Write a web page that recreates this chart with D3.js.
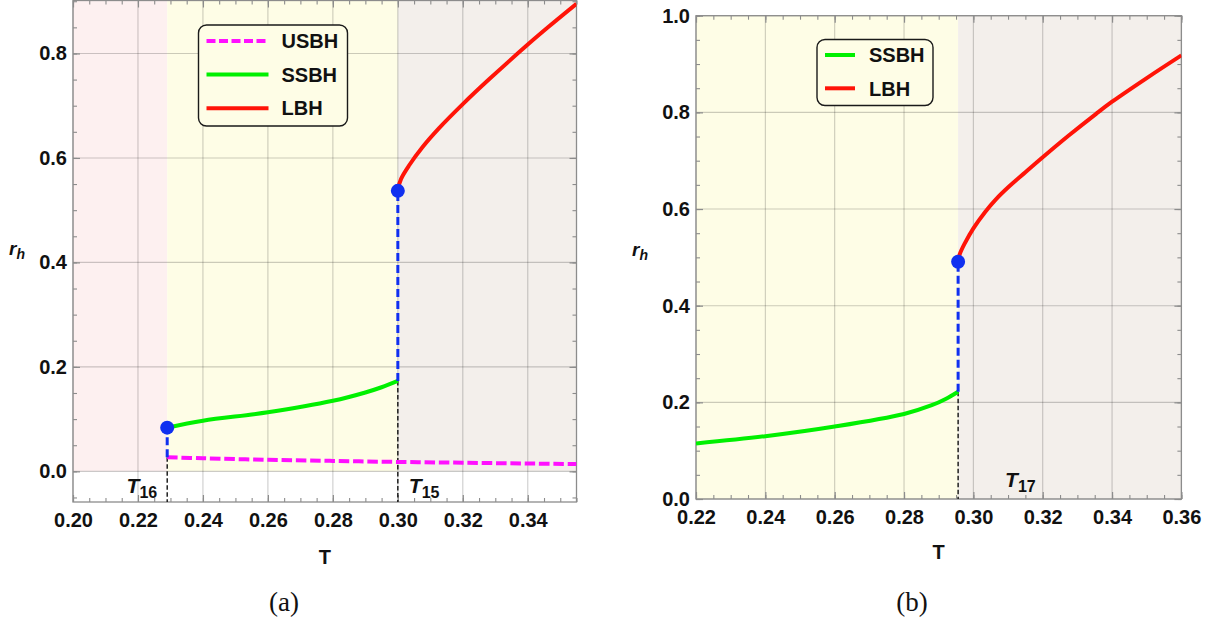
<!DOCTYPE html>
<html>
<head>
<meta charset="utf-8">
<script src="https://cdn.jsdelivr.net/npm/d3@7"></script>
<style>
  body { margin: 0; background: #fff; }
  svg { font-family: "Liberation Sans", Arial, sans-serif; }
</style>
</head>
<body>
<svg id="okvir" width="1216" height="624"></svg>
<script>
// ---- panel (a) ----
const aXTicks = [0.20, 0.22, 0.24, 0.26, 0.28, 0.30, 0.32, 0.34]
const aYTicks = [0.0, 0.2, 0.4, 0.6, 0.8]
const aGranice = [0.20, 0.229, 0.300, 0.355]   // T16, T15 split the plot
const aUSBH = [[0.229, 0.027], [0.24, 0.025], [0.26, 0.022], [0.28, 0.020], [0.30, 0.018],
               [0.32, 0.0165], [0.34, 0.015], [0.355, 0.014]]
const aSSBH = [[0.229, 0.0836], [0.24, 0.097], [0.26, 0.113], [0.28, 0.135], [0.29, 0.151],
               [0.295, 0.161], [0.300, 0.173]]
const aLBH = [[0.300, 0.540], [0.301, 0.560], [0.3035, 0.586], [0.3075, 0.620], [0.3127, 0.657],
              [0.320, 0.703], [0.328, 0.750], [0.340, 0.817], [0.3464, 0.851], [0.355, 0.895]]
const aTocke = [[0.229, 0.0836], [0.300, 0.537]]
const aSkokovi = [{T: 0.229, lo: 0.027, hi: 0.0836}, {T: 0.300, lo: 0.173, hi: 0.537}]
const aOznake = [{T: 0.229, ime: "16", strana: "lijevo"}, {T: 0.300, ime: "15", strana: "desno"}]

// ---- panel (b) ----
const bXTicks = [0.22, 0.24, 0.26, 0.28, 0.30, 0.32, 0.34, 0.36]
const bYTicks = [0.0, 0.2, 0.4, 0.6, 0.8, 1.0]
const bGranice = [0.22, 0.2956, 0.36]
const bSSBH = [[0.220, 0.115], [0.240, 0.130], [0.260, 0.150], [0.280, 0.176], [0.288, 0.194],
               [0.292, 0.207], [0.2956, 0.222]]
const bLBH = [[0.2956, 0.491], [0.2961, 0.507], [0.2976, 0.530], [0.300, 0.560], [0.3034, 0.594],
              [0.3065, 0.620], [0.3102, 0.646], [0.315, 0.676], [0.320, 0.707], [0.3275, 0.752],
              [0.3354, 0.797], [0.340, 0.822], [0.350, 0.871], [0.360, 0.918]]
const bTocke = [[0.2956, 0.491]]
const bSkokovi = [{T: 0.2956, lo: 0.222, hi: 0.491}]
const bOznake = [{T: 0.2956, ime: "17", strana: "daleko"}]

const boje = {USBH: "#ff10ff", SSBH: "#00f000", LBH: "#ff1408", plava: "#1030f0"}
const svg = d3.select("#okvir")

function crtajPanel(cfg) {
  const g = svg.append("g")
  const x = d3.scaleLinear().domain(cfg.xDom).range(cfg.xRange)
  const y = d3.scaleLinear().domain(cfg.yDom).range(cfg.yRange)
  const [x0, x1] = cfg.xRange
  const [y0, y1] = cfg.yRange   // y0 bottom, y1 top

  // shaded regions (from r = 0 up to the top of the frame)
  for (let i = 0; i < cfg.granice.length - 1; i++) {
    g.append("rect")
      .attr("x", x(cfg.granice[i]))
      .attr("y", y1)
      .attr("width", x(cfg.granice[i + 1]) - x(cfg.granice[i]))
      .attr("height", y(0) - y1)
      .attr("fill", cfg.bojePodrucja[i])
  }

  // grid
  g.append("g").selectAll("line").data(cfg.xTicks).join("line")
    .attr("x1", d => x(d)).attr("x2", d => x(d))
    .attr("y1", y0).attr("y2", y1)
    .attr("stroke", "#000").attr("stroke-opacity", 0.2).attr("stroke-width", 1.1)
  g.append("g").selectAll("line").data(cfg.yTicks).join("line")
    .attr("x1", x0).attr("x2", x1)
    .attr("y1", d => y(d)).attr("y2", d => y(d))
    .attr("stroke", "#000").attr("stroke-opacity", 0.2).attr("stroke-width", 1.1)

  // frame ticks, inward like Mathematica
  const xMinor = d3.range(cfg.xDom[0], cfg.xDom[1] + 1e-9, 0.005)
  const yMinor = d3.range(Math.ceil(cfg.yDom[0] / 0.05) * 0.05, cfg.yDom[1] + 1e-9, 0.05)
  const osi = [
    [d3.axisBottom(x), `translate(0,${y0})`, ".2f", cfg.xTicks, xMinor, 10.5],
    [d3.axisTop(x), `translate(0,${y1})`, null, cfg.xTicks, xMinor, 0],
    [d3.axisLeft(y), `translate(${x0},0)`, ".1f", cfg.yTicks, yMinor, 6],
    [d3.axisRight(y), `translate(${x1},0)`, null, cfg.yTicks, yMinor, 0],
  ]
  osi.forEach(([gen, tr, fmt, major, minor, pad]) => {
    const os = g.append("g").attr("transform", tr)
      .call(gen.tickValues(major).tickSize(-7).tickPadding(pad)
        .tickFormat(fmt ? d3.format(fmt) : ""))
    os.select(".domain").remove()
    os.selectAll("line").attr("stroke", "#8c8c8c").attr("stroke-width", 1.2)
    os.selectAll("text").attr("font-size", 20).attr("font-weight", "bold").attr("fill", "#111")
      .attr("font-family", "Liberation Sans, Arial, sans-serif")
    const osMin = g.append("g").attr("transform", tr)
      .call(gen.tickValues(minor).tickSize(-4).tickFormat(""))
    osMin.select(".domain").remove()
    osMin.selectAll("line").attr("stroke", "#8c8c8c").attr("stroke-width", 1.1)
  })

  g.append("rect")
    .attr("x", x0).attr("y", y1).attr("width", x1 - x0).attr("height", y0 - y1)
    .attr("fill", "none").attr("stroke", "#8c8c8c").attr("stroke-width", 1.3)

  const clipId = "clip" + cfg.id
  svg.append("clipPath").attr("id", clipId).append("rect")
    .attr("x", x0).attr("y", y1).attr("width", x1 - x0).attr("height", y0 - y1)
  const plot = g.append("g").attr("clip-path", `url(#${clipId})`)

  const linija = d3.line().x(d => x(d[0])).y(d => y(d[1])).curve(d3.curveCatmullRom.alpha(0.5))

  // black dashed drop lines to the bottom
  plot.selectAll(".crna").data(cfg.skokovi).join("line")
    .attr("x1", d => x(d.T)).attr("x2", d => x(d.T))
    .attr("y1", d => y(d.lo)).attr("y2", y0)
    .attr("stroke", "#111").attr("stroke-width", 1.4).attr("stroke-dasharray", "4.5,2.5")

  cfg.krivulje.forEach(k => {
    plot.append("path").datum(k.podaci)
      .attr("d", linija)
      .attr("fill", "none")
      .attr("stroke", boje[k.ime])
      .attr("stroke-width", 4)
      .attr("stroke-dasharray", k.crtkano ? "10.5,3.8" : null)
  })

  // blue dashed jumps
  plot.selectAll(".skok").data(cfg.skokovi).join("line")
    .attr("x1", d => x(d.T)).attr("x2", d => x(d.T))
    .attr("y1", d => y(d.lo)).attr("y2", d => y(d.hi))
    .attr("stroke", boje.plava).attr("stroke-width", 3).attr("stroke-dasharray", "8,4")

  plot.selectAll("circle").data(cfg.tocke).join("circle")
    .attr("cx", d => x(d[0])).attr("cy", d => y(d[1])).attr("r", 7)
    .attr("fill", boje.plava)

  // legend
  const L = cfg.legenda
  g.append("rect")
    .attr("x", L.x).attr("y", L.y).attr("width", L.w).attr("height", L.h)
    .attr("rx", 8).attr("fill", "#fefde6").attr("stroke", "#1a1a1a").attr("stroke-width", 1.4)
  cfg.krivulje.forEach((k, i) => {
    const yy = L.y + L.prvi + i * L.razmak
    g.append("line")
      .attr("x1", L.x + 8).attr("x2", L.x + 8 + L.duzina)
      .attr("y1", yy).attr("y2", yy)
      .attr("stroke", boje[k.ime]).attr("stroke-width", 4)
      .attr("stroke-dasharray", k.crtkano ? "9,3.5" : null)
    g.append("text")
      .attr("x", L.x + L.tekst).attr("y", yy + 7.2)
      .attr("font-size", 20).attr("font-weight", "bold").attr("fill", "#111")
      .text(k.ime)
  })

  // transition labels T_n
  cfg.oznake.forEach(o => {
    const t = g.append("text").attr("font-weight", "bold").attr("fill", "#111")
    if (o.strana === "lijevo") t.attr("x", x(o.T) - 10).attr("text-anchor", "end")
    else if (o.strana === "desno") t.attr("x", x(o.T) + 11)
    else t.attr("x", x(o.T) + 47)
    t.attr("y", cfg.oznakaY)
    t.append("tspan").attr("font-style", "italic").attr("font-size", 21).text("T")
    t.append("tspan").attr("font-size", 16).attr("dy", 4.5).text(o.ime)
  })

  // axis labels
  g.append("text")
    .attr("x", (x0 + x1) / 2).attr("y", cfg.tY)
    .attr("text-anchor", "middle").attr("font-size", 20).attr("font-weight", "bold")
    .attr("fill", "#111").text("T")
  const rh = g.append("text")
    .attr("x", cfg.rX).attr("y", cfg.rY)
    .attr("font-weight", "bold").attr("font-style", "italic").attr("fill", "#111")
  rh.append("tspan").attr("font-size", 19).text("r")
  rh.append("tspan").attr("font-size", 14).attr("dy", 4).text("h")

  svg.append("text")
    .attr("x", cfg.captionX).attr("y", 611)
    .attr("text-anchor", "middle").attr("font-size", 27)
    .attr("font-family", "Liberation Serif, Times New Roman, serif")
    .attr("fill", "#111").text(cfg.caption)
}

crtajPanel({
  id: "a",
  xDom: [0.20, 0.355], xRange: [73, 576.5],
  yDom: [-0.0587, 0.9014], yRange: [502, 0.5],
  xTicks: aXTicks, yTicks: aYTicks,
  granice: aGranice, bojePodrucja: ["#fdf0f0", "#fefde6", "#f3efeb"],
  krivulje: [
    {ime: "USBH", podaci: aUSBH, crtkano: true},
    {ime: "SSBH", podaci: aSSBH},
    {ime: "LBH", podaci: aLBH},
  ],
  tocke: aTocke, skokovi: aSkokovi, oznake: aOznake, oznakaY: 493,
  legenda: {x: 198.5, y: 25, w: 149, h: 101, prvi: 16, razmak: 33.6, duzina: 62, tekst: 83},
  tY: 564, rX: 9, rY: 255,
  captionX: 284, caption: "(a)",
})

crtajPanel({
  id: "b",
  xDom: [0.22, 0.36], xRange: [696, 1181.4],
  yDom: [0, 1], yRange: [499, 15.7],
  xTicks: bXTicks, yTicks: bYTicks,
  granice: bGranice, bojePodrucja: ["#fefde6", "#f3efeb"],
  krivulje: [
    {ime: "SSBH", podaci: bSSBH},
    {ime: "LBH", podaci: bLBH},
  ],
  tocke: bTocke, skokovi: bSkokovi, oznake: bOznake, oznakaY: 487,
  legenda: {x: 817, y: 39.5, w: 116, h: 66, prvi: 15.5, razmak: 33.3, duzina: 30, tekst: 52},
  tY: 559, rX: 632, rY: 256,
  captionX: 912, caption: "(b)",
})
</script>
</body>
</html>
